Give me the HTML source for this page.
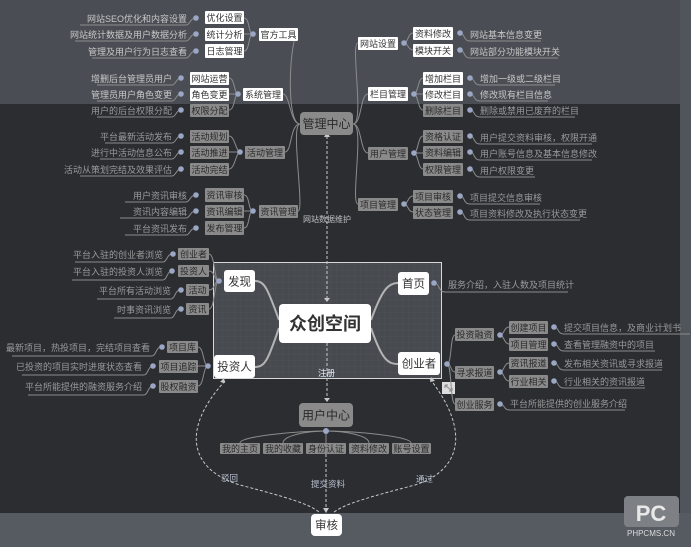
<!DOCTYPE html>
<html><head><meta charset="utf-8"><style>
html,body{margin:0;padding:0;width:691px;height:547px;overflow:hidden;background:#2b2d31}
svg{display:block}
text{font-family:"Liberation Sans","Noto Sans CJK SC",sans-serif;font-size:9px}
.w{fill:#fff}.g{fill:#8a8a8a}
.tw{fill:#333}.tg{fill:#2b2b2b}
.lb{fill:#c8c8c8}.ld{fill:#9a9a9a}
.ln{stroke:#8c8c8c;fill:none;stroke-width:1}
.dot{fill:#9aa6c4}
</style></head><body>
<svg width="691" height="547" viewBox="0 0 691 547">
<defs>
<pattern id="grid" width="6" height="6" patternUnits="userSpaceOnUse"><path d="M6 0H0V6" fill="none" stroke="#53575c" stroke-width="0.6"/></pattern>
</defs>
<rect x="0" y="0" width="691" height="104" fill="#4a4e54"/>
<rect x="0" y="104" width="691" height="410" fill="#2b2d31"/>
<rect x="680" y="0" width="11" height="547" fill="#50555b"/>
<rect x="0" y="513" width="691" height="34" fill="#565b61"/>
<rect x="213" y="262" width="229" height="117" fill="#474b50"/>
<rect x="213" y="262" width="229" height="117" fill="url(#grid)"/>
<rect x="213.5" y="262.5" width="228" height="116" fill="none" stroke="#d8d8d8"/>
<rect x="442" y="382" width="13" height="12" fill="#ddd"/><path d="M445 385l7 6M445 385h3M445 385v3M452 391h-3M452 391v-3" stroke="#888" fill="none"/>

<g class="ln">
<path d="M300 124 C285 124 290 34 298 34"/>
<path d="M300 124 C290 124 290 94 283 94"/>
<path d="M300 124 C290 124 292 152 285 152"/>
<path d="M300 124 C290 124 305 211 298 211"/>
<path d="M353 124 C365 124 350 43 358 43"/>
<path d="M353 124 C362 124 360 94 368 94"/>
<path d="M353 124 C362 124 360 153 368 153"/>
<path d="M353 124 C365 124 350 204 358 204"/>
<path d="M253 34 C248 34 250 18 244 18"/><path d="M253 34 H244"/><path d="M253 34 C248 34 250 51 244 51"/>
<path d="M80 25 H186 C190 25 190 18 196 18"/><path d="M75 41 H186 C190 41 190 34 196 34"/><path d="M92 58 H186 C190 58 190 51 196 51"/>
<path d="M238 94 C234 94 235 78 229 78"/><path d="M238 94 H229"/><path d="M238 94 C234 94 235 110 229 110"/>
<path d="M97 85 H172 C176 85 176 78 181 78"/><path d="M97 101 H172 C176 101 176 94 181 94"/><path d="M97 117 H172 C176 117 176 110 181 110"/>
<path d="M240 152 C236 152 235 136 229 136"/><path d="M240 152 H229"/><path d="M240 152 C236 152 235 169 229 169"/>
<path d="M105 143 H172 C176 143 176 136 181 136"/><path d="M100 159 H172 C176 159 176 152 181 152"/><path d="M80 176 H172 C176 176 176 169 181 169"/>
<path d="M253 211 C248 211 250 195 244 195"/><path d="M253 211 H244"/><path d="M253 211 C248 211 250 228 244 228"/>
<path d="M125 202 H186 C190 202 190 195 196 195"/><path d="M120 218 H186 C190 218 190 211 196 211"/><path d="M125 235 H186 C190 235 190 228 196 228"/>
<path d="M404 43 C408 43 408 33 413 33"/><path d="M404 43 C408 43 408 50 413 50"/>
<path d="M460 33 C465 33 463 41 470 41 H541"/><path d="M460 50 C465 50 463 58 470 58 H558"/>
<path d="M414 94 C418 94 418 78 423 78"/><path d="M414 94 H423"/><path d="M414 94 C418 94 418 110 423 110"/>
<path d="M470 78 C475 78 473 85 480 85 H555"/><path d="M470 94 C475 94 473 101 480 101 H548"/><path d="M470 110 C475 110 473 117 480 117 H575"/>
<path d="M414 153 C418 153 418 136 423 136"/><path d="M414 153 H423"/><path d="M414 153 C418 153 418 169 423 169"/>
<path d="M470 136 C475 136 473 144 480 144 H592"/><path d="M470 152 C475 152 473 160 480 160 H592"/><path d="M470 169 C475 169 473 177 480 177 H535"/>
<path d="M404 204 C408 204 408 196 413 196"/><path d="M404 204 C408 204 408 212 413 212"/>
<path d="M460 196 C465 196 463 204 470 204 H540"/><path d="M460 212 C465 212 463 220 470 220 H580"/>
<path d="M219 281 C214 281 215 254 209 254"/><path d="M219 281 C214 281 215 271 209 271"/><path d="M219 281 C214 281 215 290 209 290"/><path d="M219 281 C214 281 215 309 209 309"/>
<path d="M75 262 H163 C167 262 167 254 172 254"/><path d="M72 280 H163 C167 280 167 271 172 271"/><path d="M97 299 H171 C175 299 175 290 180 290"/><path d="M114 318 H171 C175 318 175 309 180 309"/>
<path d="M208 366 C203 366 204 347 198 347"/><path d="M208 366 H198"/><path d="M208 366 C203 366 204 386 198 386"/>
<path d="M12 356 H152 C156 356 156 347 161 347"/><path d="M22 375 H144 C148 375 148 366 153 366"/><path d="M28 395 H144 C148 395 148 386 153 386"/>
<path d="M434 283 C440 283 438 292 445 292 H568"/>
<path d="M447 364 C452 364 450 335 455 335"/><path d="M447 364 C452 364 450 372 455 372"/><path d="M447 364 C452 364 450 404 455 404"/>
<path d="M500 335 C504 335 504 327 509 327"/><path d="M500 335 C504 335 504 344 509 344"/>
<path d="M500 372 C504 372 504 363 509 363"/><path d="M500 372 C504 372 504 381 509 381"/>
<path d="M554 327 C559 327 557 334 564 334 H690"/><path d="M554 344 C559 344 557 351 564 351 H655"/>
<path d="M554 363 C559 363 557 370 564 370 H662"/><path d="M554 381 C559 381 557 388 564 388 H645"/>
<path d="M500 404 C505 404 503 410 510 410 H625"/>
<path d="M326 431 C300 431 240 436 240 443"/><path d="M326 431 C305 431 283 436 283 443"/><path d="M326 431 V443"/><path d="M326 431 C347 431 369 436 369 443"/><path d="M326 431 C352 431 411 436 411 443"/>
</g>
<g stroke="#b4b4b4" stroke-width="2" fill="none">
<path d="M279 320 C268 290 265 281 255 281"/>
<path d="M371 320 C382 290 388 283 398 283"/>
<path d="M279 328 C268 360 265 367 255 367"/>
<path d="M371 328 C382 360 388 364 398 364"/>
</g>
<g stroke="#c8c8c8" stroke-dasharray="3,2" fill="none" stroke-width="1">
<path d="M327 136 V300"/><path d="M327 343 V403"/><path d="M326 454 V513"/>
<path d="M225 381 C180 430 190 470 240 485 C290 498 312 505 320 513"/>
<path d="M430 379 C470 430 462 470 415 485 C365 498 342 505 333 513"/>
</g>
<g fill="#c8c8c8"><path d="M324 298l3 4 3-4z"/><path d="M323 508l3 5 3-5z"/><path d="M224 378l-4 4 5 1z"/><path d="M431 377l4 4-5 1z"/><path d="M324 137l3-5 3 5z"/><path d="M324 398l3 4 3-4z"/></g>

<g class="dot">
<circle cx="196" cy="18" r="2.8"/><circle cx="196" cy="34" r="2.8"/><circle cx="196" cy="51" r="2.8"/><circle cx="253" cy="34" r="2.8"/>
<circle cx="181" cy="78" r="2.8"/><circle cx="181" cy="94" r="2.8"/><circle cx="181" cy="110" r="2.8"/><circle cx="238" cy="94" r="2.8"/>
<circle cx="181" cy="136" r="2.8"/><circle cx="181" cy="152" r="2.8"/><circle cx="181" cy="169" r="2.8"/><circle cx="240" cy="152" r="2.8"/>
<circle cx="196" cy="195" r="2.8"/><circle cx="196" cy="211" r="2.8"/><circle cx="196" cy="228" r="2.8"/><circle cx="253" cy="211" r="2.8"/>
<circle cx="404" cy="43" r="2.8"/><circle cx="460" cy="33" r="2.8"/><circle cx="460" cy="50" r="2.8"/>
<circle cx="414" cy="94" r="2.8"/><circle cx="470" cy="78" r="2.8"/><circle cx="470" cy="94" r="2.8"/><circle cx="470" cy="110" r="2.8"/>
<circle cx="414" cy="153" r="2.8"/><circle cx="470" cy="136" r="2.8"/><circle cx="470" cy="152" r="2.8"/><circle cx="470" cy="169" r="2.8"/>
<circle cx="404" cy="204" r="2.8"/><circle cx="460" cy="196" r="2.8"/><circle cx="460" cy="212" r="2.8"/>
<circle cx="173" cy="254" r="2.8"/><circle cx="172" cy="271" r="2.8"/><circle cx="181" cy="290" r="2.8"/><circle cx="181" cy="309" r="2.8"/><circle cx="219" cy="281" r="2.8"/>
<circle cx="162" cy="347" r="2.8"/><circle cx="153" cy="366" r="2.8"/><circle cx="153" cy="386" r="2.8"/><circle cx="208" cy="366" r="2.8"/>
<circle cx="434" cy="283" r="2.8"/><circle cx="447" cy="364" r="2.8"/>
<circle cx="500" cy="335" r="2.8"/><circle cx="500" cy="372" r="2.8"/><circle cx="500" cy="404" r="2.8"/>
<circle cx="554" cy="327" r="2.8"/><circle cx="554" cy="344" r="2.8"/><circle cx="554" cy="363" r="2.8"/><circle cx="554" cy="381" r="2.8"/>
<circle cx="326" cy="431" r="3"/>
</g>

<g>
<rect class="w" x="205" y="11" width="39" height="13" rx="1"/><rect class="w" x="205" y="28" width="39" height="13" rx="1"/><rect class="w" x="205" y="44" width="39" height="14" rx="1"/><rect class="w" x="259" y="28" width="39" height="13" rx="1"/>
<rect class="w" x="190" y="72" width="39" height="13" rx="1"/><rect class="w" x="190" y="88" width="39" height="13" rx="1"/><rect class="g" x="190" y="104" width="39" height="13" rx="1"/><rect class="w" x="243" y="88" width="40" height="13" rx="1"/>
<rect class="g" x="190" y="130" width="39" height="13" rx="1"/><rect class="g" x="190" y="146" width="39" height="13" rx="1"/><rect class="g" x="190" y="163" width="39" height="13" rx="1"/><rect class="g" x="245" y="146" width="40" height="13" rx="1"/>
<rect class="g" x="205" y="188" width="39" height="14" rx="1"/><rect class="g" x="205" y="205" width="39" height="13" rx="1"/><rect class="g" x="205" y="221" width="39" height="14" rx="1"/><rect class="g" x="259" y="205" width="39" height="13" rx="1"/>
<rect class="g" x="300" y="112" width="53" height="23" rx="4"/>
<rect class="w" x="358" y="37" width="40" height="13" rx="1"/><rect class="w" x="413" y="27" width="40" height="13" rx="1"/><rect class="w" x="413" y="44" width="40" height="13" rx="1"/>
<rect class="w" x="368" y="87" width="40" height="14" rx="1"/><rect class="w" x="423" y="72" width="40" height="13" rx="1"/><rect class="w" x="423" y="88" width="40" height="13" rx="1"/><rect class="g" x="423" y="104" width="40" height="13" rx="1"/>
<rect class="g" x="368" y="147" width="40" height="13" rx="1"/><rect class="g" x="423" y="130" width="40" height="13" rx="1"/><rect class="g" x="423" y="146" width="40" height="13" rx="1"/><rect class="g" x="423" y="163" width="40" height="13" rx="1"/>
<rect class="g" x="358" y="198" width="40" height="13" rx="1"/><rect class="g" x="413" y="190" width="40" height="13" rx="1"/><rect class="g" x="413" y="206" width="40" height="13" rx="1"/>
<rect class="g" x="178" y="248" width="31" height="12" rx="1"/><rect class="g" x="178" y="265" width="31" height="12" rx="1"/><rect class="g" x="186" y="284" width="23" height="12" rx="1"/><rect class="g" x="186" y="303" width="23" height="12" rx="1"/>
<rect class="g" x="167" y="341" width="31" height="12" rx="1"/><rect class="g" x="159" y="360" width="39" height="13" rx="1"/><rect class="g" x="159" y="380" width="39" height="13" rx="1"/>
<rect class="w" x="224" y="270" width="31" height="22" rx="3"/><rect class="w" x="398" y="272" width="31" height="23" rx="3"/><rect class="w" x="214" y="355" width="41" height="23" rx="3"/><rect class="w" x="398" y="352" width="42" height="23" rx="3"/>
<rect class="w" x="279" y="304" width="92" height="39" rx="4"/>
<rect class="g" x="455" y="328" width="39" height="13" rx="1"/><rect class="g" x="455" y="366" width="39" height="13" rx="1"/><rect class="g" x="455" y="398" width="39" height="13" rx="1"/>
<rect class="g" x="509" y="321" width="39" height="13" rx="1"/><rect class="g" x="509" y="338" width="39" height="13" rx="1"/><rect class="g" x="509" y="357" width="39" height="12" rx="1"/><rect class="g" x="509" y="375" width="39" height="13" rx="1"/>
<rect class="g" x="299" y="403" width="54" height="24" rx="4"/>
<rect class="g" x="220" y="443" width="40" height="11" rx="1"/><rect class="g" x="263" y="443" width="40" height="11" rx="1"/><rect class="g" x="306" y="443" width="40" height="11" rx="1"/><rect class="g" x="349" y="443" width="40" height="11" rx="1"/><rect class="g" x="392" y="443" width="39" height="11" rx="1"/>
<rect class="w" x="311" y="514" width="31" height="22" rx="4"/>
</g>

<g text-anchor="middle">
<text class="tw" x="224.5" y="21">优化设置</text><text class="tw" x="224.5" y="38">统计分析</text><text class="tw" x="224.5" y="54.5">日志管理</text><text class="tw" x="278.5" y="38">官方工具</text>
<text class="tw" x="209.5" y="82">网站运营</text><text class="tw" x="209.5" y="98">角色变更</text><text class="tg" x="209.5" y="114">权限分配</text><text class="tw" x="263" y="98">系统管理</text>
<text class="tg" x="209.5" y="140">活动规划</text><text class="tg" x="209.5" y="156">活动推进</text><text class="tg" x="209.5" y="173">活动完结</text><text class="tg" x="265" y="156">活动管理</text>
<text class="tg" x="224.5" y="198.5">资讯审核</text><text class="tg" x="224.5" y="215">资讯编辑</text><text class="tg" x="224.5" y="231.5">发布管理</text><text class="tg" x="278.5" y="215">资讯管理</text>
<text class="tg" x="326.5" y="128" style="font-size:12px">管理中心</text>
<text class="tw" x="378" y="47">网站设置</text><text class="tw" x="433" y="37">资料修改</text><text class="tw" x="433" y="54">模块开关</text>
<text class="tw" x="388" y="97.5">栏目管理</text><text class="tw" x="443" y="82">增加栏目</text><text class="tw" x="443" y="98">修改栏目</text><text class="tg" x="443" y="114">删除栏目</text>
<text class="tg" x="388" y="157">用户管理</text><text class="tg" x="443" y="140">资格认证</text><text class="tg" x="443" y="156">资料编辑</text><text class="tg" x="443" y="173">权限管理</text>
<text class="tg" x="378" y="208">项目管理</text><text class="tg" x="433" y="200">项目审核</text><text class="tg" x="433" y="216">状态管理</text>
<text class="tg" x="193.5" y="257.5">创业者</text><text class="tg" x="193.5" y="274.5">投资人</text><text class="tg" x="197.5" y="293.5">活动</text><text class="tg" x="197.5" y="312.5">资讯</text>
<text class="tg" x="182.5" y="350.5">项目库</text><text class="tg" x="178.5" y="370">项目追踪</text><text class="tg" x="178.5" y="390">股权融资</text>
<text class="tw" x="239.5" y="285.5" style="font-size:11.5px">发现</text><text class="tw" x="413.5" y="287.5" style="font-size:11.5px">首页</text><text class="tw" x="234.5" y="370.5" style="font-size:11.5px">投资人</text><text class="tw" x="419" y="367.5" style="font-size:11.5px">创业者</text>
<text class="tw" x="325" y="330" style="font-size:18px;font-weight:bold">众创空间</text>
<text class="tg" x="474.5" y="338">投资融资</text><text class="tg" x="474.5" y="376">寻求报道</text><text class="tg" x="474.5" y="408">创业服务</text>
<text class="tg" x="528.5" y="331">创建项目</text><text class="tg" x="528.5" y="348">项目管理</text><text class="tg" x="528.5" y="366.5">资讯报道</text><text class="tg" x="528.5" y="385">行业相关</text>
<text class="tg" x="326" y="419.5" style="font-size:12px">用户中心</text>
<text class="tg" x="240" y="452" style="font-size:9px">我的主页</text><text class="tg" x="283" y="452" style="font-size:9px">我的收藏</text><text class="tg" x="326" y="452" style="font-size:9px">身份认证</text><text class="tg" x="369" y="452" style="font-size:9px">资料修改</text><text class="tg" x="411.5" y="452" style="font-size:9px">账号设置</text>
<text class="tw" x="326.5" y="529" style="font-size:11.5px">审核</text>
</g>

<g text-anchor="end">
<text class="lb" x="187" y="22">网站SEO优化和内容设置</text><text class="lb" x="187" y="38">网站统计数据及用户数据分析</text><text class="lb" x="187" y="55">管理及用户行为日志查看</text>
<text class="lb" x="172" y="82">增删后台管理员用户</text><text class="lb" x="172" y="98">管理员用户角色变更</text><text class="ld" x="172" y="114">用户的后台权限分配</text>
<text class="ld" x="172" y="140">平台最新活动发布</text><text class="ld" x="172" y="156">进行中活动信息公布</text><text class="ld" x="172" y="173">活动从策划完结及效果评估</text>
<text class="ld" x="187" y="199">用户资讯审核</text><text class="ld" x="187" y="215">资讯内容编辑</text><text class="ld" x="187" y="232">平台资讯发布</text>
<text class="ld" x="163" y="258">平台入驻的创业者浏览</text><text class="ld" x="163" y="275">平台入驻的投资人浏览</text><text class="ld" x="171" y="294">平台所有活动浏览</text><text class="ld" x="171" y="313">时事资讯浏览</text>
<text class="ld" x="150" y="351">最新项目，热投项目，完结项目查看</text><text class="ld" x="142" y="370">已投资的项目实时进度状态查看</text><text class="ld" x="142" y="390">平台所能提供的融资服务介绍</text>
</g>
<g>
<text class="lb" x="470" y="38">网站基本信息变更</text><text class="lb" x="470" y="55">网站部分功能模块开关</text>
<text class="lb" x="480" y="82">增加一级或二级栏目</text><text class="lb" x="480" y="98">修改现有栏目信息</text><text class="ld" x="480" y="114">删除或禁用已废弃的栏目</text>
<text class="ld" x="480" y="141">用户提交资料审核，权限开通</text><text class="ld" x="480" y="157">用户账号信息及基本信息修改</text><text class="ld" x="480" y="174">用户权限变更</text>
<text class="ld" x="470" y="201">项目提交信息审核</text><text class="ld" x="470" y="217">项目资料修改及执行状态变更</text>
<text class="ld" x="448" y="288">服务介绍，入驻人数及项目统计</text>
<text class="ld" x="564" y="331">提交项目信息，及商业计划书</text><text class="ld" x="564" y="348">查看管理融资中的项目</text><text class="ld" x="564" y="367">发布相关资讯或寻求报道</text><text class="ld" x="564" y="385">行业相关的资讯报道</text>
<text class="ld" x="510" y="407">平台所能提供的创业服务介绍</text>
<text fill="#c0c0c0" x="303" y="222" style="font-size:8px">网站数据维护</text>
<text fill="#e8f0ff" x="318" y="376" style="font-size:8.5px">注册</text>
<text fill="#b8c0d0" x="221" y="481" style="font-size:8.5px">驳回</text>
<text fill="#b8c0d0" x="311" y="487" style="font-size:8.5px">提交资料</text>
<text fill="#b8c0d0" x="416" y="482" style="font-size:8.5px">通过</text>
</g>
<rect x="624" y="496" width="55" height="31" rx="4" fill="#7d8084"/>
<text x="651" y="521" text-anchor="middle" fill="#e8e8e8" style="font-size:22px;font-weight:bold">PC</text>
<text x="651" y="536" text-anchor="middle" fill="#dcdcdc" style="font-size:8px">PHPCMS.CN</text>
</svg>
</body></html>
